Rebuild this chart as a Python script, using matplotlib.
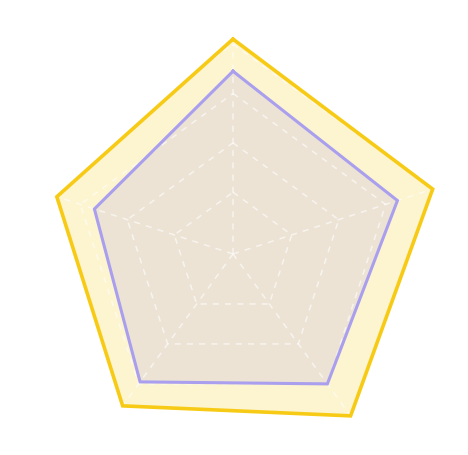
import numpy as np
import matplotlib
matplotlib.use('Agg')
import matplotlib.pyplot as plt

# five axes, clockwise from the top
axes_names = ['A', 'B', 'C', 'D', 'E']
series_yellow = [102, 100, 96, 91, 90]
series_purple = [89, 85, 80, 79, 74]
ring_values = [40, 60, 80, 100]
r_min, r_max = 15, 103

fig = plt.figure(figsize=(4.68, 4.56), dpi=100)
fig.patch.set_facecolor('white')

cx, cy = 233 / 468, (456 - 255) / 456
half_px = (r_max - r_min) * 2.47
w, h = 2 * half_px / 468, 2 * half_px / 456
ax = fig.add_axes([cx - w / 2, cy - h / 2, w, h], projection='polar')
ax.set_theta_offset(np.pi / 2)
ax.set_theta_direction(-1)
ax.set_ylim(r_min, r_max)
ax.axis('off')

n = len(axes_names)
theta = np.linspace(0, 2 * np.pi, n, endpoint=False)
theta_c = np.append(theta, theta[0])


def closed(vals):
    return np.append(vals, vals[0])


yellow = '#F7CB15'
purple = '#A99FEE'

ax.fill(theta_c, closed(series_yellow), color=yellow, alpha=0.2, lw=0, zorder=1)
ax.plot(theta_c, closed(series_yellow), color=yellow, lw=2.6, zorder=4,
        solid_joinstyle='miter')
ax.fill(theta_c, closed(series_purple), color=purple, alpha=0.2, lw=0, zorder=2)
ax.plot(theta_c, closed(series_purple), color=purple, lw=2.2, zorder=4,
        solid_joinstyle='miter')

# polygon grid, dashed white
for rv in ring_values:
    ax.plot(theta_c, [rv] * (n + 1), color='white', lw=1.1, alpha=0.6,
            ls=(0, (4, 4)), zorder=3)
for t in theta:
    ax.plot([t, t], [r_min, ring_values[-1]], color='white', lw=1.1, alpha=0.6,
            ls=(0, (4, 4)), zorder=3)

plt.savefig('out.png', dpi=100, facecolor='white')
